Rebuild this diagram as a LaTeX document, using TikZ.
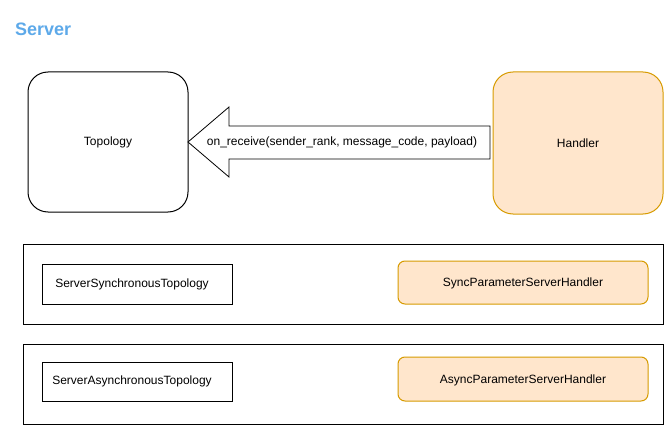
\documentclass[tikz,border=0pt]{standalone}
\usepackage{fontspec}
\setmainfont{Liberation Sans}
\definecolor{hfill}{HTML}{FFE6CC}
\definecolor{hdraw}{HTML}{D79B00}
\definecolor{titleblue}{HTML}{5DA9E9}
\begin{document}
\begin{tikzpicture}[x=1pt,y=-1pt,
  every node/.style={font=\fontsize{12}{14}\selectfont, inner sep=0pt},
  plainbox/.style={draw=black, line width=1pt, fill=white},
  bigrounded/.style={draw=black, line width=1pt, rounded corners=20pt},
  handlerbig/.style={draw=hdraw, fill=hfill, line width=1pt, rounded corners=20pt},
  handlersmall/.style={draw=hdraw, fill=hfill, line width=1pt, rounded corners=7pt},
  arrowshape/.style={draw=black, line width=0.8pt, fill=white}]
\useasboundingbox (0,0) rectangle (672,433);
% title
\node[anchor=west, font=\fontsize{18}{20}\selectfont\bfseries, text=titleblue] (title) at (15,29) {Server};
% top row
\draw[bigrounded] (28,72) rectangle (188,212);
\node (topo) at (108,142) {Topology};
\draw[handlerbig] (493,72) rectangle (663,214);
\node (handler) at (578,143) {Handler};
% block arrow
\draw[arrowshape] (188,142) -- (229,107) -- (229,126) -- (490,126) -- (490,159) -- (229,159) -- (229,177) -- cycle;
\node (msg) at (342,142) {on\_receive(sender\_rank, message\_code, payload)};
% containers
\draw[plainbox] (23,244) rectangle (663,324);
\draw[plainbox] (42,264) rectangle (232,304);
\node (sst) at (132,284) {ServerSynchronousTopology};
\draw[handlersmall] (398,261) rectangle (648,304);
\node (sph) at (523,283) {SyncParameterServerHandler};
\draw[plainbox] (23,344) rectangle (663,424);
\draw[plainbox] (42,362) rectangle (232,401);
\node (sat) at (132,381) {ServerAsynchronousTopology};
\draw[handlersmall] (398,357) rectangle (648,401);
\node (aph) at (523,380) {AsyncParameterServerHandler};
\end{tikzpicture}
\end{document}
